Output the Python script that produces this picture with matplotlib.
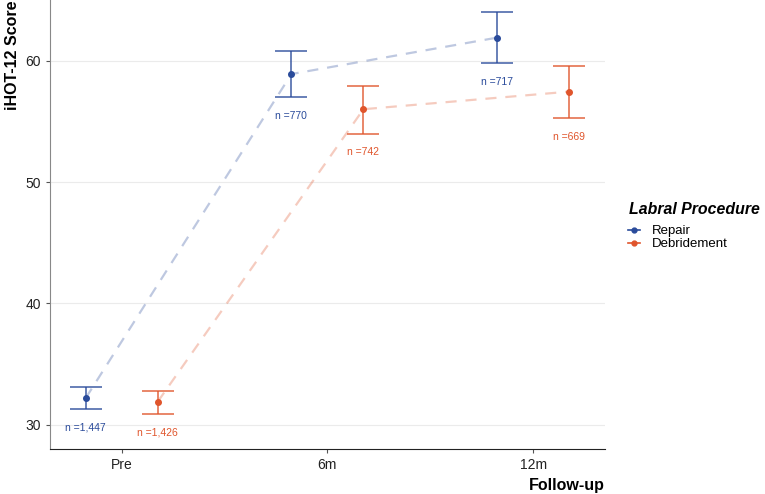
import numpy as np
import matplotlib.pyplot as plt
from matplotlib.lines import Line2D

plt.rcParams['font.family'] = ['Liberation Sans', 'DejaVu Sans']

# Data
timepoints = ['Pre', '6m', '12m']
groups = ['Repair', 'Debridement']
repair_mean = [32.2, 58.9, 61.9]
repair_lo = [31.3, 57.0, 59.8]
repair_hi = [33.1, 60.8, 64.0]
repair_n = ['1,447', '770', '717']
debr_mean = [31.9, 56.0, 57.45]
debr_lo = [30.9, 54.0, 55.3]
debr_hi = [32.8, 57.9, 59.6]
debr_n = ['1,426', '742', '669']

colors = ['#2A4B9B', '#E0552C']
dodge = [-0.175, 0.175]

fig = plt.figure(figsize=(7.65, 4.94), dpi=100)
ax = fig.add_axes([0.065, 0.091, 0.726, 0.909])

x = np.arange(1, len(timepoints) + 1)
series = [(repair_mean, repair_lo, repair_hi, repair_n),
          (debr_mean, debr_lo, debr_hi, debr_n)]

for (m, lo, hi, n), c, d in zip(series, colors, dodge):
    xs = x + d
    m = np.array(m); lo = np.array(lo); hi = np.array(hi)
    ax.plot(xs, m, ls=(0, (5, 4)), color=c, alpha=0.3, lw=1.6, zorder=1)
    ax.errorbar(xs, m, yerr=[m - lo, hi - m], fmt='none', ecolor=c,
                elinewidth=1.1, capsize=11.5, capthick=1.1, alpha=0.9, zorder=2)
    ax.scatter(xs, m, s=16, color=c, zorder=3)
    for xi, l, lab in zip(xs, lo, n):
        ax.annotate('n =' + lab, (xi, l), xytext=(0, -10), textcoords='offset points',
                    ha='center', va='top', fontsize=7.5, color=c)

ax.set_xlim(0.65, 3.35)
ax.set_ylim(28.0, 65.0)
ax.set_xticks(x)
ax.set_xticklabels(timepoints)
ax.set_yticks([30, 40, 50, 60])
ax.yaxis.grid(True, color='#EBEBEB', lw=0.8)
ax.set_axisbelow(True)
for s in ['top', 'right']:
    ax.spines[s].set_visible(False)
ax.spines['left'].set_color('#888888')
ax.spines['bottom'].set_color('#222222')
ax.tick_params(axis='both', labelsize=10, length=3, color='#555555', labelcolor='#222222')

ax.set_xlabel('Follow-up', fontsize=11.5, fontweight='bold', loc='right')
ax.set_ylabel('iHOT-12 Score', fontsize=11.5, fontweight='bold', loc='top')

# legend title drawn separately to get the ggplot-like gap
fig.text(629 / 765, 1 - 209 / 494, 'Labral Procedure', fontsize=11.4, fontweight='bold',
         fontstyle='italic', ha='left', va='center')
handles = [Line2D([0], [0], color=c, marker='o', markersize=3.5, lw=1.2) for c in colors]
leg = fig.legend(handles, groups, loc='upper left', bbox_to_anchor=(628 / 765, 1 - 225 / 494),
                 frameon=False, fontsize=9.5, handlelength=0.9, handletextpad=0.9,
                 labelspacing=0.05, borderaxespad=0, borderpad=0)

fig.savefig('out.png', dpi=100)
